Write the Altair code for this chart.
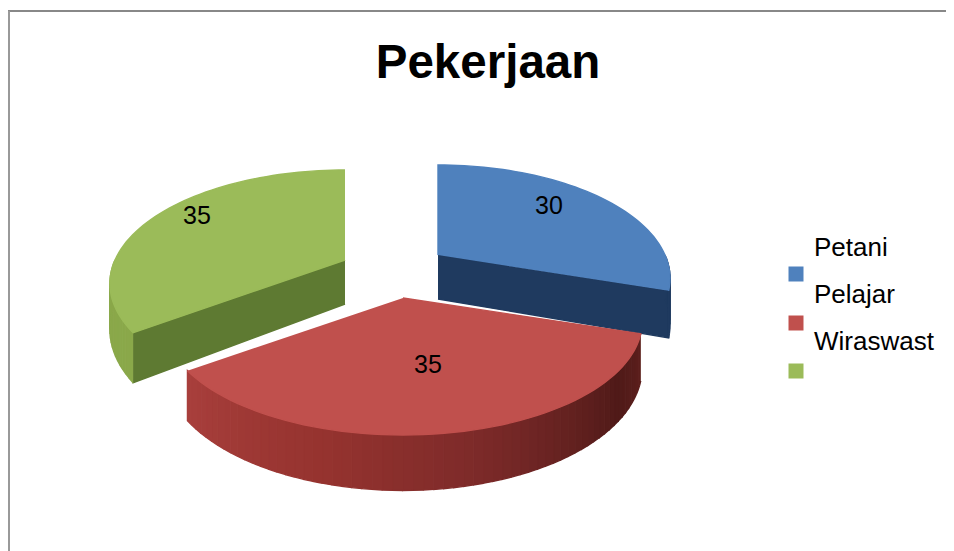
import math
import altair as alt
import pandas as pd

# --- data ---
categories = ["Petani", "Pelajar", "Wiraswast"]
values = [30, 35, 35]
top_colors = ["#4f81bd", "#c0504d", "#9bbb59"]
cut_colors = ["#1f3a5f", "#7a2c2a", "#5e7a32"]
wall_colors = ["#1f3a5f", None, "#8aa84a"]
red_wall_stops = [(0.0, "#a83f3c"), (0.3, "#96332f"), (0.55, "#7c2a29"), (0.85, "#501a18"), (1.0, "#5e201d")]

# --- layout (page pixels) ---
apexes = [(438, 255), (403, 298), (345, 260)]
radii_x = [227, 234, 230]
label_pos = [(549, 206), (428, 365), (197, 216)]
RY, PERSP, DEPTH = 108.6, 0.207, 44
legend_x_sq, legend_x_txt = 796, 814
legend_y_txt = [248, 295, 342]
legend_y_sq = [274, 323, 371]


def project(idx, deg):
    apex = apexes[idx]
    t = math.radians(deg)
    u, v = math.sin(t), -math.cos(t)
    s = 1 / (1 - PERSP * v)
    return apex[0] + radii_x[idx] * u * s, apex[1] + RY * v * s, s


def hex2rgb(c):
    return [int(c[i:i + 2], 16) for i in (1, 3, 5)]


def ramp(f):
    for (a, ca), (b, cb) in zip(red_wall_stops, red_wall_stops[1:]):
        if f <= b:
            k = (f - a) / (b - a)
            x, y = hex2rgb(ca), hex2rgb(cb)
            return "#" + "".join(f"{round(p + (q - p) * k):02x}" for p, q in zip(x, y))
    return red_wall_stops[-1][1]


rows = []
pid = [0]


def poly(points, color):
    pid[0] += 1
    for i, (x, y) in enumerate(points):
        rows.append(dict(piece=pid[0], i=i, x=x, y=y, color=color))


total = sum(values)
bounds = [0]
for v in values:
    bounds.append(bounds[-1] + 360 * v / total)


def arc(idx, a0, a1, step=2):
    n = max(2, int(abs(a1 - a0) / step))
    return [project(idx, a0 + (a1 - a0) * k / n) for k in range(n + 1)]


for idx in [0, 2, 1]:
    apex, a0, a1 = apexes[idx], bounds[idx], bounds[idx + 1]
    pts = arc(idx, a0, a1)
    # cut faces that look toward the viewer
    if idx == 0:
        e = project(idx, a1)
        poly([(apex[0], apex[1]), (e[0], e[1]), (e[0], e[1] + DEPTH * e[2]), (apex[0], apex[1] + DEPTH)], cut_colors[0])
    if idx == 2:
        e = project(idx, a0)
        poly([(apex[0], apex[1]), (e[0], e[1]), (e[0], e[1] + DEPTH * e[2]), (apex[0], apex[1] + DEPTH)], cut_colors[2])
    # outer wall: only the part on the near half of the ellipse
    wa0, wa1 = max(a0, 90), min(a1, 270)
    wall = arc(idx, wa0, wa1)
    m = len(wall) - 1
    for k in range(m):
        p, q = wall[k], wall[k + 1]
        if idx == 1:
            col = ramp(1 - (k + .5) / m)
        else:
            col = wall_colors[idx]
        poly([(p[0], p[1]), (q[0], q[1]), (q[0], q[1] + DEPTH * q[2]), (p[0], p[1] + DEPTH * p[2])], col)
    # top surface
    poly([(apex[0], apex[1])] + [(p[0], p[1]) for p in pts], top_colors[idx])

df = pd.DataFrame(rows)

x_scale = alt.Scale(domain=[8, 946], range=[0, 938], nice=False, zero=False)
y_scale = alt.Scale(domain=[8, 551], range=[0, 543], nice=False, zero=False)
X = lambda f: alt.X(f, scale=x_scale, axis=None)
Y = lambda f: alt.Y(f, scale=y_scale, axis=None)

slices = alt.Chart(df).mark_line(filled=True, strokeWidth=1.4, interpolate="linear").encode(
    x=X("x:Q"), y=Y("y:Q"), order="i:Q", detail="piece:N",
    fill=alt.Fill("color:N", scale=None),
    stroke=alt.Stroke("color:N", scale=None),
)

labels = alt.Chart(pd.DataFrame(dict(
    x=[p[0] for p in label_pos], y=[p[1] for p in label_pos], t=[str(v) for v in values]
))).mark_text(font="Liberation Sans", fontSize=25, color="black", baseline="middle", align="center").encode(
    x=X("x:Q"), y=Y("y:Q"), text="t:N"
)

leg_sq = alt.Chart(pd.DataFrame(dict(
    x=[legend_x_sq] * 3, y=legend_y_sq, c=top_colors
))).mark_square(size=225, opacity=1).encode(
    x=X("x:Q"), y=Y("y:Q"), fill=alt.Fill("c:N", scale=None), stroke=alt.value(None)
)

leg_txt = alt.Chart(pd.DataFrame(dict(
    x=[legend_x_txt] * 3, y=legend_y_txt, t=categories
))).mark_text(font="Liberation Sans", fontSize=26, color="black", align="left", baseline="middle").encode(
    x=X("x:Q"), y=Y("y:Q"), text="t:N"
)

frame_top = alt.Chart(pd.DataFrame({"a": [0]})).mark_rule(color="#888888", strokeWidth=2).encode(
    x=alt.value(0), x2=alt.value(938), y=alt.value(3)
)
frame_left = alt.Chart(pd.DataFrame({"a": [0]})).mark_rule(color="#999999", strokeWidth=2).encode(
    x=alt.value(1), y=alt.value(3), y2=alt.value(543)
)

chart = alt.layer(frame_top, frame_left, slices, labels, leg_sq, leg_txt).properties(
    width=938, height=543,
    padding=0,
    autosize=alt.AutoSizeParams(type="none"),
    title=alt.TitleParams(
        "Pekerjaan", font="Liberation Sans", fontSize=47.5, fontWeight="bold", color="black",
        anchor="middle", offset=-79, dx=11,
    ),
).configure_view(stroke=None)

chart.save("out.html", embed_options={"renderer": "svg", "actions": False})
